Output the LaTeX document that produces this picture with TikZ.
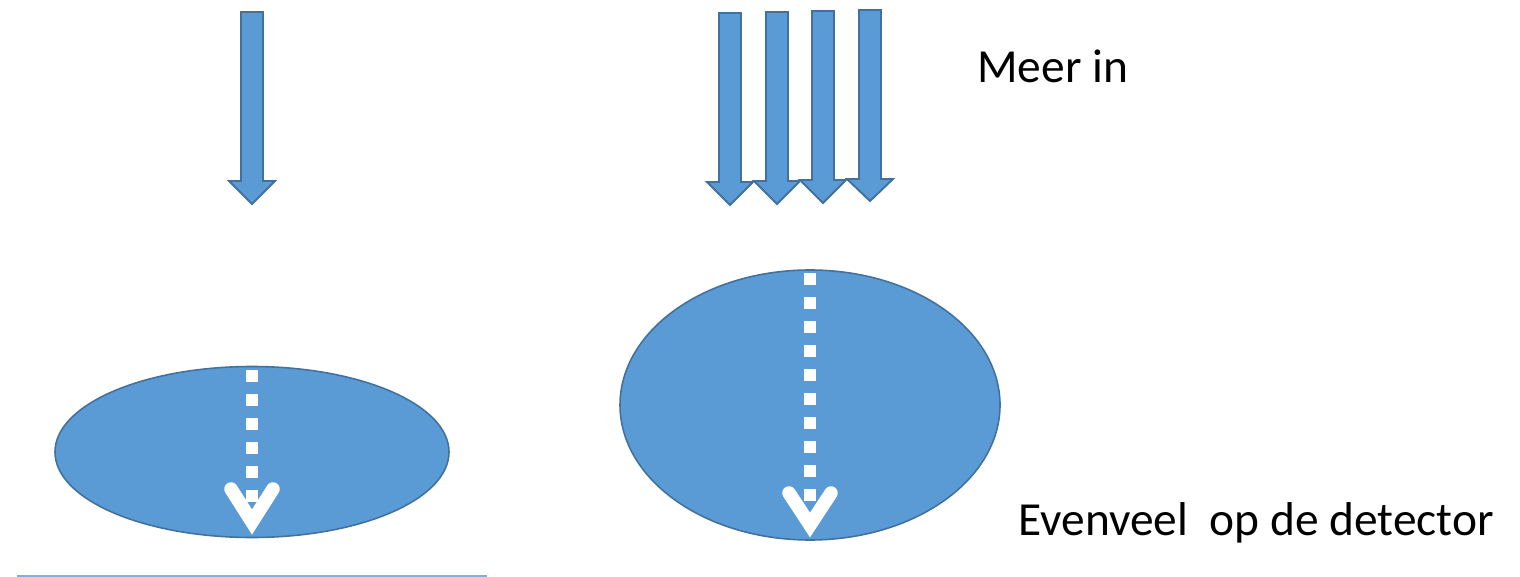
\documentclass[tikz,border=0pt]{standalone}
\usepackage{fontspec}
\setmainfont{Carlito}
\usetikzlibrary{shapes.geometric}
\definecolor{bfill}{HTML}{5B9BD5}
\definecolor{bline}{HTML}{41719C}
\definecolor{lline}{HTML}{7EB0E0}
\tikzset{
  blockarrow/.style={fill=bfill,draw=bline,line width=1.1pt,line join=miter},
  lens/.style={fill=bfill,draw=bline,line width=0.9pt},
  dots/.style={white,line width=0.24cm,dash pattern=on 0.24cm off 0.24cm},
  vee/.style={white,line width=0.27cm,line cap=round,line join=miter},
  lbl/.style={font=\fontsize{27}{32}\selectfont,anchor=base west,inner sep=0pt}
}
\newcommand\blkarrow[4]{% x, top, head y, tip y
  \draw[blockarrow] (#1-11,#2) -- (#1+11,#2) -- (#1+11,#3) -- (#1+23,#3) -- (#1,#4) -- (#1-23,#3) -- (#1-11,#3) -- cycle;}
\begin{document}
\begin{tikzpicture}[x=0.02cm,y=-0.02cm]
\useasboundingbox (0,0) rectangle (1520,577);
% incoming arrows
\blkarrow{252}{12}{181}{204}
\blkarrow{730}{13}{182}{205}
\blkarrow{777}{12}{181}{204}
\blkarrow{823}{11}{180}{203}
\blkarrow{870}{10}{179}{201}
% ellipses
\node[lens,ellipse,minimum width=394*0.02cm,minimum height=171*0.02cm,inner sep=0pt] (e1) at (252,452) {};
\node[lens,ellipse,minimum width=380*0.02cm,minimum height=270*0.02cm,inner sep=0pt] (e2) at (810,405) {};
% dotted arrows
\coordinate (d1t) at (252,370);
\coordinate (d1b) at (252,508);
\draw[dots] (d1t) -- (d1b);
\coordinate (v1l) at (231,489);
\coordinate (v1t) at (252,522);
\coordinate (v1r) at (273,489);
\draw[vee] (v1l) -- (v1t) -- (v1r);
\coordinate (d2t) at (810,273);
\coordinate (d2b) at (810,510);
\draw[dots] (d2t) -- (d2b);
\coordinate (v2l) at (789,493);
\coordinate (v2t) at (810,525);
\coordinate (v2r) at (831,493);
\draw[vee] (v2l) -- (v2t) -- (v2r);
% labels
\node[lbl] (t1) at (977,83) {Meer in};
\node[lbl] (t2) at (1018,535) {Evenveel\ \ op de detector};
% bottom line
\coordinate (bl) at (17,576);
\coordinate (br) at (487,576);
\draw[lline,line width=1.1pt] (bl) -- (br);
\end{tikzpicture}
\end{document}
